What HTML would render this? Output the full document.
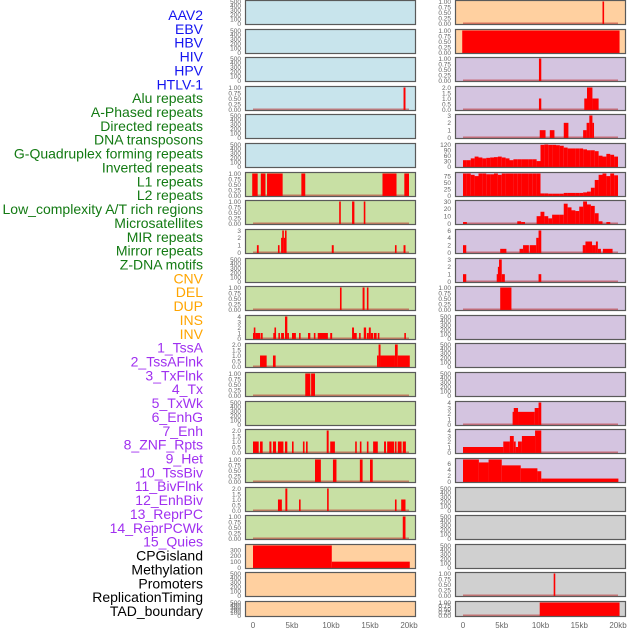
<!DOCTYPE html>
<html><head><meta charset="utf-8"><style>
html,body{margin:0;padding:0;background:#fff;}
svg{display:block;font-family:"Liberation Sans",sans-serif;}
</style></head><body>
<svg id="chart" width="630" height="630" viewBox="0 0 630 630"></svg>
<script>
const trackLabels = ["AAV2","EBV","HBV","HIV","HPV","HTLV-1","Alu repeats","A-Phased repeats","Directed repeats","DNA transposons","G-Quadruplex forming repeats","Inverted repeats","L1 repeats","L2 repeats","Low_complexity A/T rich regions","Microsatellites","MIR repeats","Mirror repeats","Z-DNA motifs","CNV","DEL","DUP","INS","INV","1_TssA","2_TssAFlnk","3_TxFlnk","4_Tx","5_TxWk","6_EnhG","7_Enh","8_ZNF_Rpts","9_Het","10_TssBiv","11_BivFlnk","12_EnhBiv","13_ReprPC","14_ReprPCWk","15_Quies","CPGisland","Methylation","Promoters","ReplicationTiming","TAD_boundary"];
const labelGroups = [0,0,0,0,0,0,1,1,1,1,1,1,1,1,1,1,1,1,1,2,2,2,2,2,3,3,3,3,3,3,3,3,3,3,3,3,3,3,3,4,4,4,4,4];
const xTickValues = [0,5,10,15,20];
const xTickLabels = ["0","5kb","10kb","15kb","20kb"];
const leftBg = ["b","b","b","b","b","b","g","g","g","g","g","g","g","g","g","g","g","g","g","o","o","o"];
const rightBg = ["o","o","p","p","p","p","p","p","p","p","p","p","p","p","p","p","p","y","y","y","y","y"];
const leftYMax = [500,500,500,1,500,500,1,1,3,500,1,4,2,1,500,2,1,2,1,377,500,500];
const rightYMax = [1,1,1,2,3,122,85,30,6,3,1,500,500,500,4,4,7.5,500,500,500,1,1];
const leftTicks = [[0,100,200,300,400,500],[0,100,200,300,400,500],[0,100,200,300,400,500],["0.00","0.25","0.50","0.75","1.00"],[0,100,200,300,400,500],[0,100,200,300,400,500],["0.00","0.25","0.50","0.75","1.00"],["0.00","0.25","0.50","0.75","1.00"],[0,1,2,3],[0,100,200,300,400,500],["0.00","0.25","0.50","0.75","1.00"],[0,1,2,3,4],["0.0","0.5","1.0","1.5","2.0"],["0.00","0.25","0.50","0.75","1.00"],[0,100,200,300,400,500],["0.0","0.5","1.0","1.5","2.0"],["0.00","0.25","0.50","0.75","1.00"],["0.0","0.5","1.0","1.5","2.0"],["0.00","0.25","0.50","0.75","1.00"],[0,100,200,300],[0,100,200,300,400,500],[0,100,200,300,400,500]];
const rightTicks = [["0.00","0.25","0.50","0.75","1.00"],["0.00","0.25","0.50","0.75","1.00"],["0.00","0.25","0.50","0.75","1.00"],["0.0","0.5","1.0","1.5","2.0"],[0,1,2,3],[0,30,60,90,120],[0,25,50,75],[0,10,20,30],[0,2,4,6],[0,1,2,3],["0.00","0.25","0.50","0.75","1.00"],[0,100,200,300,400,500],[0,100,200,300,400,500],[0,100,200,300,400,500],[0,1,2,3,4],[0,1,2,3,4],[0,2,4,6],[0,100,200,300,400,500],[0,100,200,300,400,500],[0,100,200,300,400,500],["0.00","0.25","0.50","0.75","1.00"],["0.00","0.25","0.50","0.75","1.00"]];
// segments: [startKb, endKb, value]
const leftSegments = [[],[],[],[[19.3,19.55,1]],[],[],
[[-0.1,0.6,1],[1.0,1.6,1],[1.8,3.8,1],[6.2,6.7,1],[16.6,18.4,1],[19.4,20.0,1]],
[[11.05,11.25,1],[12.7,13.0,1],[14.2,14.4,1]],
[[0.5,0.73,1],[3.2,3.37,1],[3.6,3.75,2],[3.75,3.95,3],[3.95,4.1,2],[4.1,4.3,3],[10.1,10.35,1],[18.2,18.4,1],[19.3,19.55,1]],
[],
[[11.15,11.35,1],[14.05,14.3,1],[14.6,14.8,1]],
[[0,0.1,1],[0.1,0.3,2],[0.3,0.95,1],[1.03,1.24,1],[2.6,2.75,1],[2.75,2.95,2],[3.25,3.45,1],[3.6,3.97,1],[4.1,4.4,4],[4.4,4.6,1],[5,5.5,1],[5.9,6.1,1],[7.05,7.35,1],[7.8,8.0,1],[8.3,9.6,1],[9.9,10.15,1],[12.7,12.95,2],[12.95,13.3,1],[13.6,13.8,1],[14.2,14.5,2],[14.6,14.85,1],[14.85,15.1,2],[15.1,15.4,1],[15.5,15.85,1],[16.0,16.2,1],[19.4,19.6,1]],
[[0.9,1.75,1],[2.56,2.9,1],[15.9,16.1,1],[16.1,16.35,2],[16.35,18.2,1],[18.2,18.55,2],[18.55,20.1,1]],
[[6.7,7.35,1],[7.45,7.95,1]],
[],
[[0,0.73,1],[0.9,1.24,1],[2.1,2.36,1],[2.56,2.95,1],[3.2,3.9,1],[4.1,4.4,1],[5,5.2,1],[6.4,6.6,1],[6.8,7.0,1],[9.45,9.7,2],[9.9,10.5,1],[13.1,13.3,1],[13.7,13.9,1],[14.6,14.8,1],[15.4,16.0,1],[16.8,17.05,1],[17.2,18.1,1],[18.2,18.4,1],[18.55,19.05,1],[19.2,19.6,1]],
[[7.95,8.7,1],[10.25,10.7,1],[13.7,14.05,1],[15.0,15.35,1]],
[[3.2,3.7,1],[4.15,4.4,2],[5.9,6.1,1],[9.5,9.7,2],[18.2,18.4,1],[19.0,19.55,1]],
[[19.2,19.55,1]],
[[0,10.1,377],[10.1,20.1,100]],
[],[]];
const rightSegments = [[[18.0,18.15,1]],[[-0.1,20.2,1]],[[9.8,10.1,1]],
[[9.8,10.1,1],[15.65,16.0,1],[16.0,16.7,2],[16.7,17.5,1]],
[[9.9,10.65,1],[11.2,11.8,1],[13.0,13.6,2],[15.5,15.95,1],[15.95,16.3,2],[16.3,16.7,3],[16.7,16.9,2]],
null,null,null,
[[0,0.42,2],[4.8,5.6,1],[7.3,7.75,1],[7.75,8.5,2],[8.6,9.45,2],[9.45,9.75,4],[9.75,10.1,6],[15.45,15.8,2],[15.8,16.65,3],[16.65,17.15,2],[17.15,17.4,3],[17.4,17.8,1],[18.05,19.3,1]],
[[0,0.42,1],[4.35,4.5,1],[4.5,4.65,2],[4.65,5.0,3],[5.0,5.4,1],[9.75,10.1,1]],
[[4.8,6.25,1]],
[],[],[],
[[6.4,6.55,2.3],[6.55,7.1,3],[7.1,9.25,2.3],[9.25,9.75,3],[9.75,10.1,4]],
[[0,5.2,1],[5.2,6.05,2],[6.05,6.55,3],[6.55,6.8,2],[6.8,7.1,1],[7.1,7.6,2],[7.6,9.3,3],[9.3,10.1,4]],
[[0,2.05,7.5],[2.05,3.3,6.5],[3.3,5.0,7.5],[5.0,7.45,5.5],[7.45,9.6,4.5],[9.6,10.1,3.5],[10.1,20.05,1]],
[],[],[],
[[11.7,11.9,1]],
[[9.9,20.2,1]]];
// dense binned tracks (0.5kb bins)
const gQuadBins = [35,35,45,55,50,45,48,50,52,55,50,45,35,40,40,40,40,40,40,30,120,122,120,120,118,115,105,100,100,100,100,95,90,90,85,60,55,70,65,55];
const l1Bins = [85,85,80,75,85,85,82,82,85,80,85,88,88,85,85,85,85,85,85,88,8,8,7,7,7,7,10,10,10,10,10,12,15,30,60,80,85,75,85,78];
const lowComplexBins = [2,0,0,0,0,0,0,0,0,0,0,0,0,0,3,2,0,0,0,10,16,10,7,12,12,12,27,22,18,17,23,30,26,24,14,3,0,2,0,0];
const binnedRight = {5:gQuadBins,6:l1Bins,7:lowComplexBins};
const binKb = 0.5;

const svg = document.getElementById('chart');
const NS = 'http://www.w3.org/2000/svg';
function mk(tag, attrs, parent){const e=document.createElementNS(NS,tag);for(const k in attrs)e.setAttribute(k,attrs[k]);(parent||svg).appendChild(e);return e;}
const bgColors = {b:'#c8e4ec',g:'#c8e0a4',o:'#ffd0a0',p:'#d4c4e0',y:'#d0d0d0'};
const groupColors = ['#1414f0','#137a13','#ffa500','#a030f0','#000000'];
const columns = [{x0:245,x1:416,kb0:253,kb20:409,bg:leftBg,ymax:leftYMax,ticks:leftTicks,segs:leftSegments,name:'left'},
                 {x0:455,x1:626,kb0:463,kb20:618,bg:rightBg,ymax:rightYMax,ticks:rightTicks,segs:rightSegments,name:'right'}];

// labels
trackLabels.forEach((t,i)=>{
  const e=mk('text',{x:203,y:15+i*13.86+5,'text-anchor':'end','font-size':14,fill:groupColors[labelGroups[i]]});
  e.textContent=t;
  
  
});

columns.forEach(col=>{
  const xs = kb => col.kb0 + kb*(col.kb20-col.kb0)/20;
  for(let i=0;i<22;i++){
    const top=Math.round(i*28.62), h=(i===21)?16:25, bot=top+h;
    const ymax=col.ymax[i];
    const ys = v => (bot-1.5) - Math.min(v,ymax)/ymax*(h-3);
    const g=mk('g',{});
    
    
    const r=mk('rect',{x:col.x0+0.5,y:top+0.5,width:col.x1-col.x0-1,height:h-1,fill:bgColors[col.bg[i]]},g);
    
    
    let segs = col.segs[i];
    if(col.name==='right' && binnedRight[i]){
      segs = binnedRight[i].map((v,j)=>[j*binKb,(j+1)*binKb,v]).filter(s=>s[2]>0);
    }
    if(segs.length){
      const bl=mk('rect',{x:xs(0),y:ys(0)-1,width:xs(20)-xs(0),height:2,fill:'rgba(190,40,40,0.55)'},g);
      
      
      segs.forEach(s=>{
        const x1=Math.max(xs(s[0]),col.x0+1), x2=Math.min(xs(s[1]),col.x1-1);
        const w=Math.max(x2-x1,1.6);
        const b=mk('rect',{x:x1,y:ys(s[2]),width:w,height:ys(0)-ys(s[2])+1,fill:'#ff0000'},g);
        
        
      });
    }
    const br=mk('rect',{x:col.x0+0.5,y:top+0.5,width:col.x1-col.x0-1,height:h-1,fill:'none',stroke:'#5a5a5a','stroke-width':1.2},g);
    
    
    col.ticks[i].forEach(t=>{
      const tv=parseFloat(t);
      const tt=mk('text',{x:col.x0-4,y:ys(tv)+2.3,'text-anchor':'end','font-size':6.5,fill:'#666'},g);
      tt.textContent=String(t);
      
      
    });
  }
  xTickValues.forEach((v,j)=>{
    const t=mk('text',{x:xs(v),y:628,'text-anchor':'middle','font-size':8,fill:'#666'});
    t.textContent=xTickLabels[j];
    
    
  });
});
</script>
</body></html>
